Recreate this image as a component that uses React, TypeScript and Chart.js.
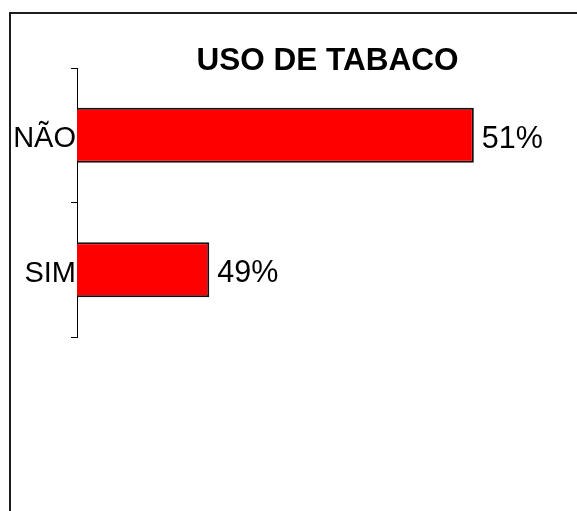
import React, { useEffect, useRef } from "react";
import { Chart, registerables } from "chart.js";

Chart.register(...registerables);

const TITLE = "USO DE TABACO";
const categories = ["NÃO", "SIM"];
const values = [51, 49];
const valueSuffix = "%";

const FONT = "'Liberation Sans', Arial, Helvetica, sans-serif";

const frame = {
  id: "frame",
  beforeDraw(chart: any) {
    const ctx = chart.ctx;
    ctx.save();
    ctx.fillStyle = "#ffffff";
    ctx.fillRect(0, 0, chart.width, chart.height);
    ctx.fillStyle = "#1c1c1c";
    ctx.fillRect(9, 12, 2, chart.height);
    ctx.fillRect(9, 12, chart.width, 2);
    ctx.restore();
  },
};

const titleText = {
  id: "titleText",
  afterDraw(chart: any) {
    const ctx = chart.ctx;
    ctx.save();
    ctx.font = `bold 31.5px ${FONT}`;
    ctx.fillStyle = "#000000";
    ctx.textAlign = "center";
    ctx.textBaseline = "middle";
    ctx.fillText(TITLE, 327.5, 61);
    ctx.restore();
  },
};

const valueLabels = {
  id: "valueLabels",
  afterDatasetsDraw(chart: any) {
    const ctx = chart.ctx;
    const meta = chart.getDatasetMeta(0);
    const data = chart.data.datasets[0].data;
    ctx.save();
    ctx.font = `30.5px ${FONT}`;
    ctx.fillStyle = "#000000";
    ctx.textAlign = "left";
    ctx.textBaseline = "middle";
    meta.data.forEach((bar: any, i: number) => {
      ctx.fillText(`${data[i]}${valueSuffix}`, bar.x + 8, bar.y + 4);
    });
    ctx.restore();
  },
};

export default function App() {
  const ref = useRef<HTMLCanvasElement | null>(null);
  useEffect(() => {
    if (!ref.current) return;
    const chart = new Chart(ref.current, {
      type: "bar",
      data: {
        labels: categories,
        datasets: [
          {
            data: values,
            backgroundColor: "#ff0000",
            borderColor: "#111111",
            borderWidth: 2,
            borderSkipped: false,
            barPercentage: 0.41,
            categoryPercentage: 1,
          },
        ],
      },
      options: {
        indexAxis: "y",
        animation: false,
        responsive: false,
        devicePixelRatio: 1,
        layout: { padding: { left: 0, right: 0, top: 68, bottom: 174 } },
        plugins: {
          legend: { display: false },
          tooltip: { enabled: false },
          title: { display: false },
        },
        scales: {
          x: {
            display: false,
            min: 48,
            max: 51.78,
          },
          y: {
            offset: true,
            afterFit: (scale: any) => {
              scale.width = 77;
            },
            grid: {
              offset: true,
              drawOnChartArea: false,
              drawTicks: true,
              tickLength: 6,
              color: "#000000",
              lineWidth: 1,
            },
            border: { display: true, color: "#000000", width: 1 },
            ticks: {
              color: "#000000",
              font: { family: FONT, size: 29 },
              padding: -5,
              labelOffset: 4,
            },
          },
        },
      },
      plugins: [frame, valueLabels, titleText],
    });
    return () => chart.destroy();
  }, []);
  return (
    <div style={{ position: "fixed", left: 0, top: 0, width: 577, height: 511, background: "#fff" }}>
      <canvas ref={ref} width={577} height={511} style={{ display: "block" }} />
    </div>
  );
}
